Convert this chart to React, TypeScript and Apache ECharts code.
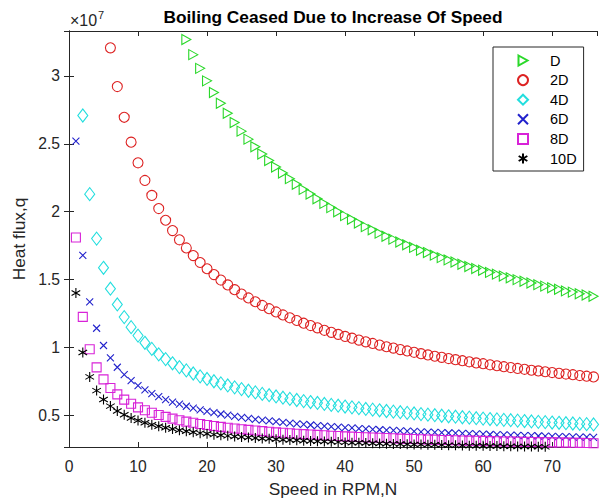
import React, { useEffect, useRef } from "react";
import * as echarts from "echarts";

// Speed in RPM, N
const speeds = [
  1, 2, 3, 4, 5, 6, 7, 8, 9, 10, 11, 12, 13, 14, 15, 16, 17, 18, 19, 20,
  21, 22, 23, 24, 25, 26, 27, 28, 29, 30, 31, 32, 33, 34, 35, 36, 37, 38, 39, 40,
  41, 42, 43, 44, 45, 46, 47, 48, 49, 50, 51, 52, 53, 54, 55, 56, 57, 58, 59, 60,
  61, 62, 63, 64, 65, 66, 67, 68, 69, 70, 71, 72, 73, 74, 75, 76,
];

// Heat flux q, in units of 1e7 (null = outside the visible axes)
const qD = [
  null, null, null, null, null, null, null, null, null, null, null, null, null, null, null, null,
  3.267, 3.156, 3.055, 2.963, 2.877, 2.798, 2.725, 2.656, 2.593, 2.534,
  2.478, 2.425, 2.377, 2.329, 2.285, 2.243, 2.202, 2.164, 2.130, 2.095,
  2.061, 2.030, 1.999, 1.971, 1.944, 1.917, 1.890, 1.867, 1.842, 1.819,
  1.798, 1.777, 1.756, 1.737, 1.716, 1.699, 1.680, 1.662, 1.645, 1.630,
  1.613, 1.597, 1.582, 1.569, 1.553, 1.540, 1.526, 1.513, 1.500, 1.488,
  1.475, 1.463, 1.452, 1.440, 1.429, 1.417, 1.408, 1.396, 1.387, 1.377,
];
const q2D = [
  null, null, null, null, null,
  3.206, 2.921, 2.695, 2.512, 2.360,
  2.230, 2.120, 2.023, 1.937, 1.861, 1.793, 1.733, 1.677, 1.626, 1.580,
  1.537, 1.497, 1.461, 1.426, 1.394, 1.365, 1.337, 1.310, 1.286, 1.262,
  1.240, 1.219, 1.199, 1.179, 1.162, 1.145, 1.127, 1.112, 1.097, 1.082,
  1.069, 1.055, 1.042, 1.030, 1.018, 1.006, 0.996, 0.985, 0.975, 0.965,
  0.955, 0.946, 0.936, 0.928, 0.919, 0.911, 0.903, 0.895, 0.887, 0.881,
  0.873, 0.866, 0.859, 0.853, 0.846, 0.840, 0.833, 0.828, 0.822, 0.816,
  0.810, 0.805, 0.800, 0.794, 0.789, 0.784,
];
const q4D = [
  null,
  2.708, 2.129, 1.802, 1.587, 1.433, 1.317, 1.224, 1.150, 1.088,
  1.035, 0.990, 0.950, 0.915, 0.884, 0.856, 0.832, 0.809, 0.788, 0.769,
  0.752, 0.736, 0.721, 0.707, 0.694, 0.682, 0.670, 0.659, 0.649, 0.640,
  0.631, 0.622, 0.614, 0.606, 0.599, 0.592, 0.585, 0.578, 0.572, 0.566,
  0.560, 0.554, 0.548, 0.543, 0.538, 0.533, 0.528, 0.524, 0.519, 0.515,
  0.510, 0.506, 0.502, 0.498, 0.494, 0.491, 0.487, 0.484, 0.480, 0.477,
  0.474, 0.471, 0.468, 0.465, 0.462, 0.459, 0.456, 0.453, 0.451, 0.448,
  0.446, 0.443, 0.441, 0.438, 0.436, 0.434,
];
const q6D = [
  2.520, 1.679, 1.336, 1.142, 1.015, 0.924, 0.855, 0.800, 0.756, 0.719,
  0.688, 0.661, 0.638, 0.617, 0.599, 0.583, 0.568, 0.554, 0.542, 0.531,
  0.521, 0.511, 0.502, 0.494, 0.486, 0.479, 0.472, 0.466, 0.460, 0.454,
  0.449, 0.444, 0.439, 0.434, 0.430, 0.426, 0.422, 0.418, 0.414, 0.411,
  0.408, 0.404, 0.401, 0.398, 0.395, 0.393, 0.390, 0.387, 0.385, 0.383,
  0.380, 0.378, 0.376, 0.374, 0.371, 0.370, 0.368, 0.366, 0.364, 0.362,
  0.360, 0.359, 0.357, 0.355, 0.354, 0.352, 0.351, 0.349, 0.348, 0.347,
  0.345, 0.344, 0.343, 0.341, 0.340, 0.339,
];
const q8D = [
  1.810, 1.226, 0.988, 0.854, 0.766, 0.702, 0.655, 0.617, 0.586, 0.560,
  0.539, 0.520, 0.504, 0.490, 0.477, 0.465, 0.455, 0.446, 0.437, 0.430,
  0.423, 0.416, 0.410, 0.404, 0.399, 0.394, 0.389, 0.385, 0.380, 0.376,
  0.373, 0.369, 0.366, 0.363, 0.360, 0.357, 0.354, 0.351, 0.349, 0.346,
  0.344, 0.342, 0.340, 0.338, 0.336, 0.334, 0.332, 0.330, 0.328, 0.327,
  0.325, 0.323, 0.322, 0.320, 0.319, 0.318, 0.316, 0.315, 0.314, 0.313,
  0.311, 0.310, 0.309, 0.308, 0.307, 0.306, 0.305, 0.304, 0.303, 0.302,
  0.301, 0.300, 0.299, 0.298, 0.297, 0.296,
];
const q10D = [
  1.401, 0.963, 0.784, 0.683, 0.617, 0.569, 0.533, 0.505, 0.482, 0.463,
  0.446, 0.432, 0.420, 0.410, 0.400, 0.391, 0.384, 0.377, 0.370, 0.365,
  0.359, 0.354, 0.350, 0.345, 0.341, 0.338, 0.334, 0.331, 0.328, 0.325,
  0.322, 0.319, 0.317, 0.314, 0.312, 0.310, 0.308, 0.306, 0.304, 0.302,
  0.300, 0.299, 0.297, 0.296, 0.294, 0.292, 0.291, 0.290, 0.288, 0.287,
  0.286, 0.285, 0.284, 0.282, 0.281, 0.280, 0.279, 0.278, 0.277, 0.277,
  0.276, 0.275, 0.274, 0.273, 0.272, 0.271, 0.271, 0.270, 0.269,
  null, null, null, null, null, null, null,
];

const seriesNames = ["D", "2D", "4D", "6D", "8D", "10D"];
const seriesValues = [qD, q2D, q4D, q6D, q8D, q10D];

const X_MIN = 0;
const X_MAX = 76.5;
const Y_MIN = 0.268;
const Y_MAX = 3.33;

const FONT = "'Liberation Sans', Arial, Helvetica, sans-serif";
const AX = "#262626";

const TRI_RIGHT = "path://M0,0L9,5L0,10Z";
const CROSS = "path://M0,0L10,10M0,10L10,0";
const STAR = "path://M5,0L5,10M0.67,2.5L9.33,7.5M0.67,7.5L9.33,2.5";

const markerStyles: any[] = [
  { symbol: TRI_RIGHT, size: 10, color: "#2ad82a" },
  { symbol: "circle", size: 10, color: "#dd2222" },
  { symbol: "diamond", size: [10, 13], color: "#22dede" },
  { symbol: CROSS, size: 7, color: "#2222cc" },
  { symbol: "rect", size: 9, color: "#d822d8" },
  { symbol: STAR, size: 10, color: "#000000" },
];

export default function App() {
  const ref = useRef<HTMLDivElement>(null);

  useEffect(() => {
    if (!ref.current) return;
    const chart = echarts.init(ref.current, undefined, { renderer: "svg" });

    const series = seriesNames.map((name, si) => {
      const st = markerStyles[si];
      const data = speeds
        .map((n, i) => [n, seriesValues[si][i]])
        .filter((p) => p[1] !== null && p[1] !== undefined);
      return {
        name,
        type: "scatter",
        data,
        symbol: st.symbol,
        symbolSize: st.size,
        symbolKeepAspect: true,
        clip: true,
        xAxisIndex: 0,
        yAxisIndex: 0,
        itemStyle: {
          color: "rgba(0,0,0,0)",
          borderColor: st.color,
          borderWidth: 1.1,
          opacity: 1,
        },
        emphasis: { disabled: true },
      };
    });

    const baseAxisLine = { show: true, lineStyle: { color: AX, width: 1 } };
    const baseTick = { show: true, inside: true, length: 5, lineStyle: { color: AX, width: 1 } };

    chart.setOption({
      animation: false,
      backgroundColor: "#ffffff",
      textStyle: { fontFamily: FONT },
      title: {
        text: "Boiling Ceased Due to Increase Of Speed",
        left: 333,
        top: 8,
        padding: 0,
        textAlign: "center",
        textStyle: { fontSize: 17.3, fontWeight: "bold", color: "#000", fontFamily: FONT },
      },
      grid: { left: 69, right: 6, top: 31, bottom: 57, containLabel: false },
      legend: {
        orient: "vertical",
        left: 493,
        top: 47,
        padding: [6, 7, 5, 24],
        itemWidth: 10,
        itemHeight: 10,
        itemGap: 4.6,
        selectedMode: false,
        backgroundColor: "#ffffff",
        borderColor: AX,
        borderWidth: 1,
        borderRadius: 0,
        textStyle: {
          fontSize: 14.5,
          color: "#000",
          fontFamily: FONT,
          padding: [0, 0, 0, 17],
        },
        data: seriesNames,
      },
      xAxis: [
        {
          type: "value",
          min: X_MIN,
          max: X_MAX,
          interval: 10,
          position: "bottom",
          axisLine: baseAxisLine,
          axisTick: baseTick,
          splitLine: { show: false },
          axisLabel: {
            fontSize: 15.7,
            color: AX,
            margin: 11,
            showMaxLabel: false,
            fontFamily: FONT,
          },
          name: "Speed in RPM,N",
          nameLocation: "middle",
          nameGap: 33,
          nameTextStyle: { fontSize: 17.3, color: AX, fontFamily: FONT },
        },
        {
          type: "value",
          min: X_MIN,
          max: X_MAX,
          interval: 10,
          position: "top",
          axisLine: baseAxisLine,
          axisTick: baseTick,
          splitLine: { show: false },
          axisLabel: { show: false },
        },
      ],
      yAxis: [
        {
          type: "value",
          min: Y_MIN,
          max: Y_MAX,
          minInterval: 0.5,
          maxInterval: 0.5,
          splitNumber: 6,
          position: "left",
          axisLine: baseAxisLine,
          axisTick: baseTick,
          splitLine: { show: false },
          axisLabel: {
            fontSize: 15.7,
            color: AX,
            margin: 9,
            showMinLabel: false,
            showMaxLabel: false,
            fontFamily: FONT,
          },
          name: "Heat flux,q",
          nameLocation: "middle",
          nameGap: 35,
          nameRotate: 90,
          nameTextStyle: { fontSize: 17.3, color: AX, fontFamily: FONT },
        },
        {
          type: "value",
          min: Y_MIN,
          max: Y_MAX,
          minInterval: 0.5,
          maxInterval: 0.5,
          splitNumber: 6,
          position: "right",
          axisLine: baseAxisLine,
          axisTick: baseTick,
          splitLine: { show: false },
          axisLabel: { show: false },
        },
      ],
      graphic: [
        {
          type: "text",
          left: 70,
          top: 12,
          style: { text: "×10", fontSize: 16, fill: AX, fontFamily: FONT },
        },
        {
          type: "text",
          left: 98,
          top: 9,
          style: { text: "7", fontSize: 11, fill: AX, fontFamily: FONT },
        },
      ],
      series,
    });

    return () => chart.dispose();
  }, []);

  return (
    <div
      ref={ref}
      style={{ position: "fixed", left: 0, top: 0, width: 603, height: 504, background: "#fff" }}
    />
  );
}
